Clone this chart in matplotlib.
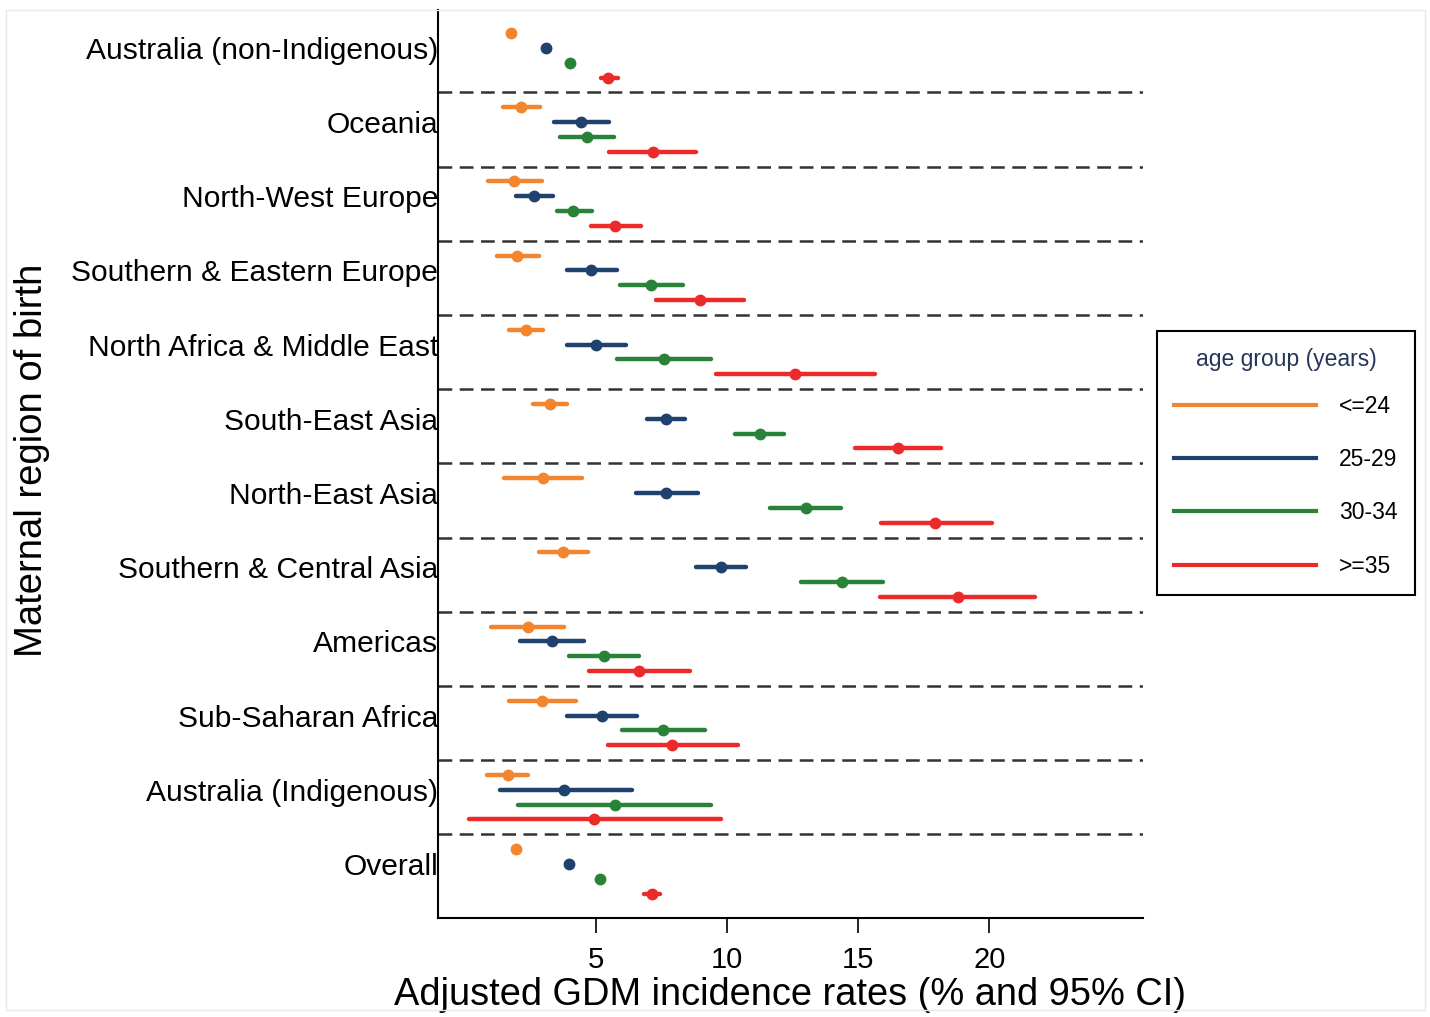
"""Forest-style dot plot of adjusted GDM incidence by maternal region of birth and age group."""
import matplotlib

matplotlib.use("Agg")
import matplotlib.pyplot as plt  # noqa: E402
from matplotlib.lines import Line2D  # noqa: E402
from matplotlib.patches import Rectangle  # noqa: E402

plt.rcParams["font.family"] = ["Liberation Sans", "DejaVu Sans"]

regions = ["Australia (non-Indigenous)", "Oceania", "North-West Europe",
           "Southern & Eastern Europe", "North Africa & Middle East",
           "South-East Asia", "North-East Asia", "Southern & Central Asia",
           "Americas", "Sub-Saharan Africa", "Australia (Indigenous)", "Overall"]

age_groups = ["<=24", "25-29", "30-34", ">=35"]
colors = ["#F2852E", "#1F416E", "#2A8238", "#EC2A2A"]

# point estimates (%) per age group, in region order
rate_24 = [1.78, 2.16, 1.91, 2.01, 2.35, 3.25, 2.98, 3.75, 2.41, 2.97, 1.66, 1.96]
rate_29 = [3.11, 4.43, 2.66, 4.83, 5.02, 7.68, 7.70, 9.78, 3.34, 5.24, 3.81, 4.00]
rate_34 = [4.01, 4.66, 4.16, 7.12, 7.62, 11.25, 13.00, 14.37, 5.31, 7.56, 5.74, 5.17]
rate_35 = [5.49, 7.18, 5.76, 8.96, 12.61, 16.51, 17.94, 18.79, 6.67, 7.92, 4.94, 7.15]

# lower / upper 95% CI
lo_24 = [1.70, 1.47, 0.89, 1.24, 1.69, 2.63, 1.50, 2.83, 1.02, 1.69, 0.86, 1.88]
hi_24 = [1.86, 2.90, 2.97, 2.85, 2.98, 3.91, 4.47, 4.70, 3.81, 4.24, 2.44, 2.05]
lo_29 = [3.02, 3.41, 1.97, 3.91, 3.91, 6.96, 6.55, 8.84, 2.14, 3.90, 1.36, 3.92]
hi_29 = [3.20, 5.50, 3.39, 5.82, 6.17, 8.41, 8.90, 10.73, 4.56, 6.59, 6.37, 4.08]
lo_34 = [3.92, 3.65, 3.53, 5.95, 5.82, 10.33, 11.66, 12.84, 4.00, 6.01, 2.03, 5.08]
hi_34 = [4.12, 5.70, 4.87, 8.33, 9.41, 12.19, 14.36, 15.95, 6.64, 9.15, 9.41, 5.27]
lo_35 = [5.20, 5.52, 4.81, 7.30, 9.59, 14.90, 15.87, 15.85, 4.76, 5.48, 0.18, 6.85]
hi_35 = [5.85, 8.83, 6.72, 10.64, 15.65, 18.17, 20.10, 21.72, 8.60, 10.42, 9.78, 7.45]

rates = [rate_24, rate_29, rate_34, rate_35]
lows = [lo_24, lo_29, lo_34, lo_35]
highs = [hi_24, hi_29, hi_34, hi_35]

fig = plt.figure(figsize=(14.3, 10.17), dpi=100)
fig.patches.append(Rectangle((6 / 1430, 7 / 1017), 1419 / 1430, 1000 / 1017,
                             transform=fig.transFigure, fill=False,
                             edgecolor="#e3e9f0", lw=1.0))
ax = fig.add_axes([438 / 1430, 1 - 918 / 1017, 705 / 1430, 908 / 1017])

n = len(regions)
for j, (r, lo, hi, c) in enumerate(zip(rates, lows, highs, colors)):
    ys = [5 * i + j for i in range(n)]
    ax.hlines(ys, lo, hi, color=c, lw=3.2, capstyle="round", zorder=3)
    ax.plot(r, ys, "o", color=c, ms=7.5, zorder=4, linestyle="none")

for i in range(n - 1):
    ax.axhline(5 * i + 4, color="#333333", lw=1.8, ls=(0, (5.5, 3)), zorder=1)

ax.set_xlim(-1, 25.85)
ax.set_ylim(59.64, -1.55)
ax.set_xticks([5, 10, 15, 20])
ax.tick_params(axis="x", length=11, width=1.2, labelsize=21, pad=9)
ax.set_yticks([5 * i + 1 for i in range(n)], regions)
ax.tick_params(axis="y", length=0, labelsize=21.6, pad=0)
for s in ("top", "right"):
    ax.spines[s].set_visible(False)
for s in ("left", "bottom"):
    ax.spines[s].set_linewidth(1.5)

ax.set_xlabel("Adjusted GDM incidence rates (% and 95% CI)", fontsize=27.4, labelpad=2)
fig.text(32 / 1430, 1 - 460 / 1017, "Maternal region of birth", rotation=90,
         fontsize=27.5, ha="center", va="center")

handles = [Line2D([], [], color=c, lw=3) for c in colors]
leg = fig.legend(handles, age_groups, loc="upper left",
                 bbox_to_anchor=(1157 / 1430, 1 - 331 / 1017),
                 fontsize=16.5, title="age group (years)", title_fontsize=16.5,
                 handlelength=6.2, handletextpad=1.0, labelspacing=1.32,
                 borderpad=0.75, borderaxespad=0, fancybox=False,
                 framealpha=1, edgecolor="black")
leg.get_frame().set_linewidth(1.5)
leg.get_title().set_color("#26355a")
leg._legend_box.sep = 17

fig.savefig("out.png", dpi=100)
